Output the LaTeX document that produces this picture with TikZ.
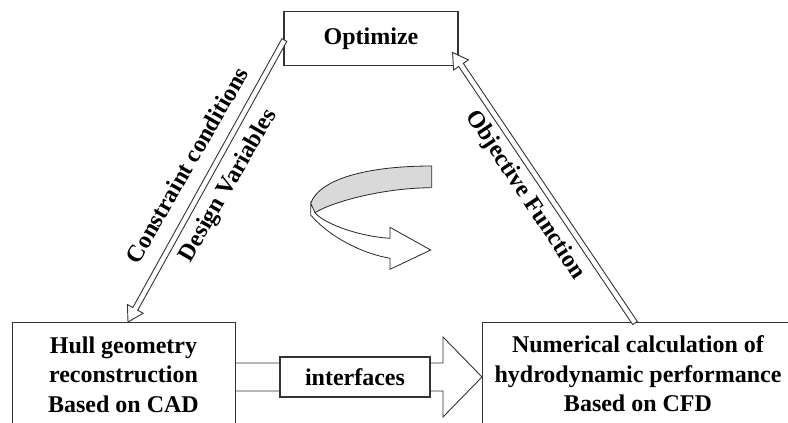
\documentclass[tikz,border=0pt]{standalone}
\usepackage{fontspec}
\setmainfont{Liberation Serif}
\usetikzlibrary{calc}

% hollow (outlined) arrow from #1 (tail) to #2 (tip)
\newcommand\hollowarrow[2]{%
  \coordinate (hb) at ($(#2)!15pt!(#1)$);
  \draw[outline]
    ($(#1)!2.8pt!90:(#2)$) -- ($(hb)!2.8pt!-90:(#1)$) -- ($(hb)!9pt!-90:(#1)$)
    -- (#2) -- ($(hb)!9pt!90:(#1)$) -- ($(hb)!2.8pt!90:(#1)$)
    -- ($(#1)!2.8pt!-90:(#2)$) -- cycle;
}

\begin{document}
\begin{tikzpicture}[x=1pt,y=-1pt,
  box/.style={draw=black!80, line width=1.2pt, fill=white, inner sep=0pt},
  txt/.style={font=\fontsize{24}{29.5}\selectfont\bfseries, align=center, inner sep=0pt},
  outline/.style={draw=black!80, line width=0.9pt, fill=white, line join=miter},
  ribbon/.style={draw=black!85, line width=0.8pt}]
\useasboundingbox (0,0) rectangle (788,423);
\clip (0,0) rectangle (788,423);

% boxes
\node[box, minimum width=174pt, minimum height=54pt] (opt) at (371,38.5) {};
\node[txt] (opttext) at (opt.center) {Optimize};
\node[box, anchor=north west, minimum width=223pt, minimum height=140pt] (hull) at (12,322) {};
\node[txt, anchor=north] (hulltext) at (123.5,336.5) {Hull geometry\\reconstruction\\Based on CAD};
\node[box, anchor=north west, minimum width=320pt, minimum height=140pt] (num) at (482,322) {};
\node[txt, anchor=north] (numtext) at (638,335.5) {Numerical calculation of\\hydrodynamic performance\\Based on CFD};

% wide arrow between the lower boxes
\coordinate (bt) at ($(hull.north east)+(0,55)$);
\coordinate (bh) at ($(num.north west)+(0,55)$);
\draw[outline]
  ($(bt)+(0,-14)$) -- ($(bh)+(-39,-14)$) -- ($(bh)+(-39,-40)$) -- (bh)
  -- ($(bh)+(-39,40)$) -- ($(bh)+(-39,14)$) -- ($(bt)+(0,14)$);
\node[box, minimum width=150pt, minimum height=40pt] (intf) at (355,377) {};
\node[txt] (intftext) at (intf.center) {interfaces};

% thin hollow arrows
\coordinate (lt) at ($(opt.west)+(1,1.5)$);
\coordinate (lh) at ($(hull.north west)+(116,0)$);
\hollowarrow{lt}{lh}
\coordinate (rt) at ($(num.north west)+(153,1)$);
\coordinate (rh) at ($(opt.east)+(-6,14)$);
\hollowarrow{rt}{rh}

% arrow labels
\node[txt, rotate=60] (lc) at (187,165) {Constraint conditions};
\node[txt, rotate=60] (ld) at (229,186) {Design Variables};
\node[txt, rotate=-56.5] (lo) at (525,195) {Objective Function};

% curled ribbon arrow in the middle
\fill[black!15] (431.7,166) .. controls (370,166) and (320,178) .. (310.7,203.3)
  -- (315,212.7) .. controls (330,203) and (380,188) .. (431.7,187.7) -- cycle;
\draw[ribbon, fill=white] (310.7,203.3) -- (310.7,215)
  .. controls (325,232) and (355,252) .. (390,258.3) -- (390,269.3) -- (430.7,250)
  -- (390,227.3) -- (390,238.3) .. controls (355,236) and (322,222) .. (315,212.7) -- cycle;
\draw[ribbon] (431.7,187.7) -- (431.7,166) .. controls (370,166) and (320,178) .. (310.7,203.3);
\draw[ribbon] (431.7,187.7) .. controls (380,188) and (330,203) .. (315,212.7);
\end{tikzpicture}
\end{document}
